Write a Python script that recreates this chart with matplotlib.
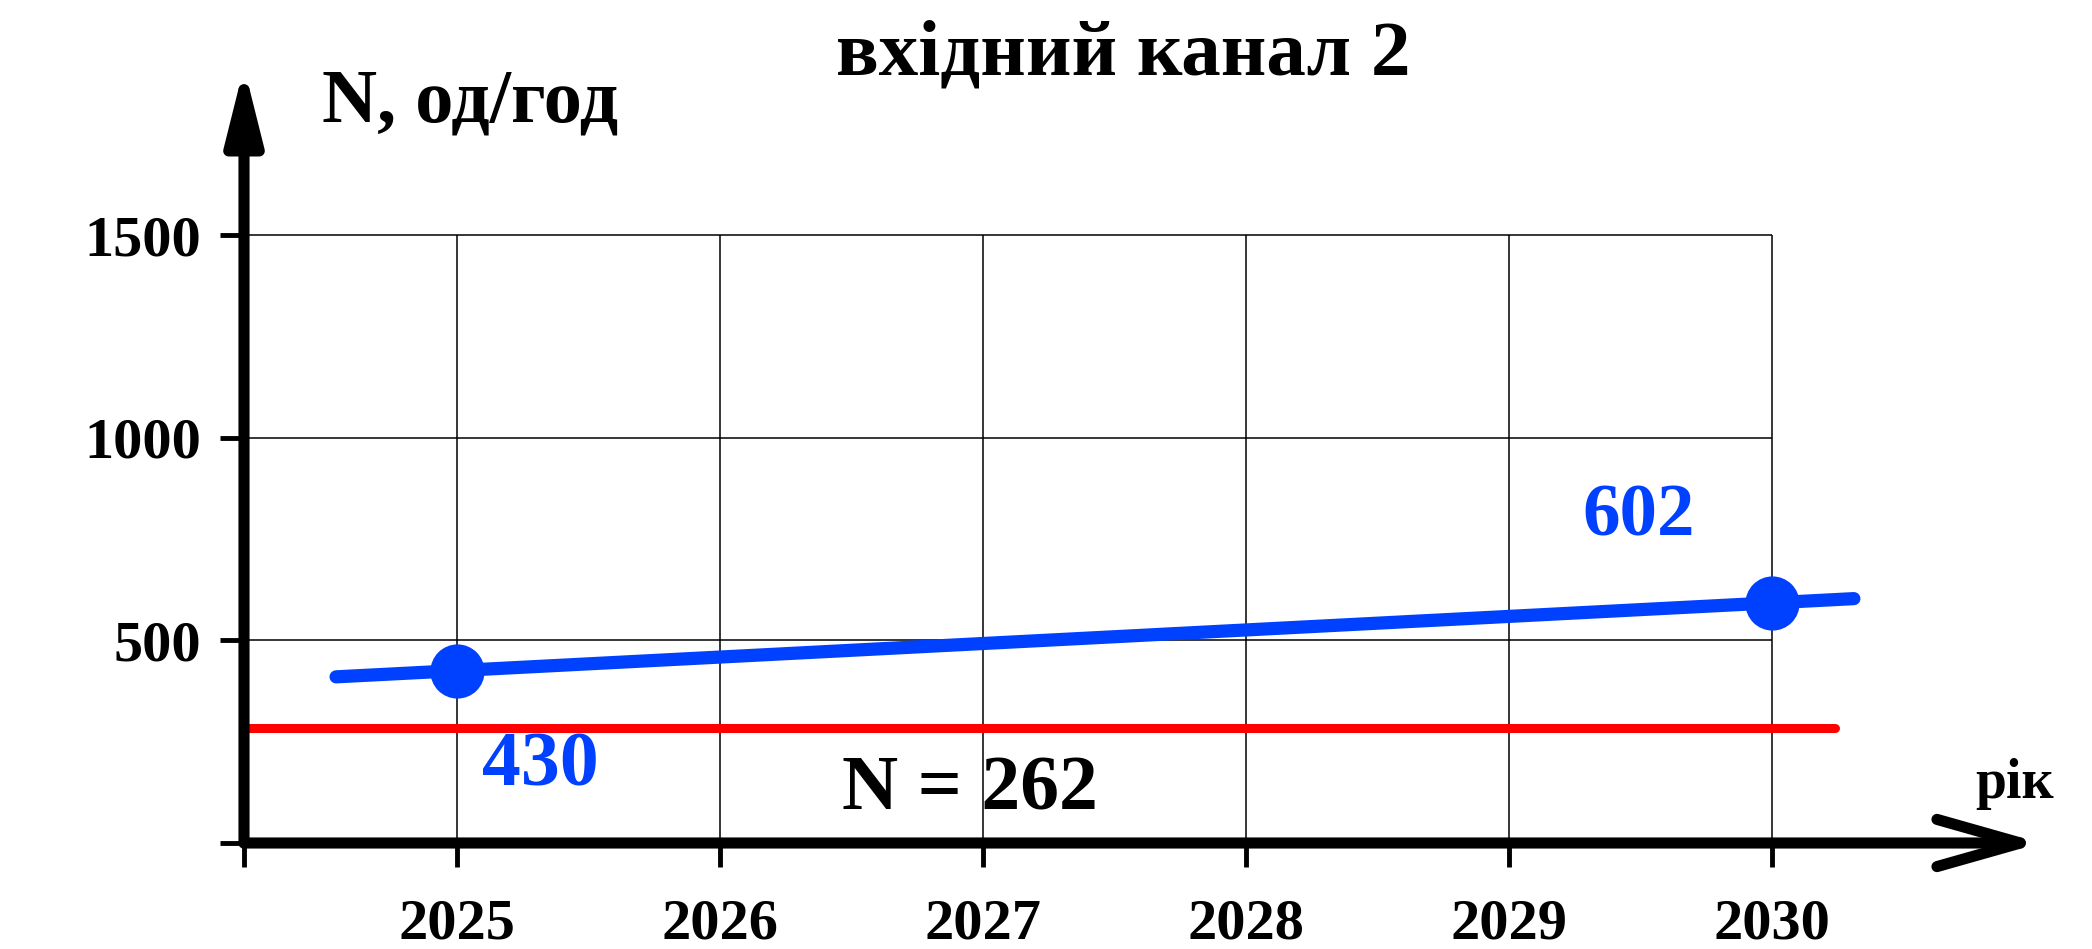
import matplotlib
matplotlib.use('Agg')
import matplotlib.pyplot as plt

# ── 資料 ─────────────────────────────────────────────────────────────────────
years       = [2025, 2026, 2027, 2028, 2029, 2030]
y_ticks     = [0, 500, 1000, 1500]
y_labels    = ['', '500', '1000', '1500']

point_years  = [2025, 2030]
point_values = [425, 593]
point_labels = ['430', '602']

trend_years  = [2024.54, 2030.31]
trend_values = [410, 603]

limit_years = [2024.19, 2030.24]
limit_value = 284
limit_label = 'N = 262'

title   = 'вхідний канал 2'
y_title = 'N, од/год'
x_title = 'рік'

# ── 樣式 ─────────────────────────────────────────────────────────────────────
plt.rcParams['font.family'] = ['Liberation Serif', 'DejaVu Serif']
plt.rcParams['font.weight'] = 'bold'
BLUE = '#0040FF'
RED  = '#FF0000'
X0, X1 = 2024.19, 2031.2
Y0, Y1 = 0, 1900

fig = plt.figure(figsize=(20.92, 9.49), dpi=100)
ax = fig.add_axes([244 / 2092, 1 - 843 / 949, (2088 - 244) / 2092, (843 - 73) / 949])
ax.set_xlim(X0, X1)
ax.set_ylim(Y0, Y1)
for s in ax.spines.values():
    s.set_visible(False)

# 格線
ax.vlines(years, 0, 1500, color='black', lw=1.1, zorder=1)
ax.hlines([500, 1000, 1500], X0, 2030, color='black', lw=1.1, zorder=1)

# 座標軸箭頭
ax.annotate('', xy=(X0, 1915), xytext=(X0, 0), annotation_clip=False,
            arrowprops=dict(arrowstyle='-|>,head_length=2.2,head_width=0.55',
                            mutation_scale=20, lw=8, color='black',
                            shrinkA=0, shrinkB=0, joinstyle='round'), zorder=5)
ax.annotate('', xy=(2031.02, 0), xytext=(X0, 0), annotation_clip=False,
            arrowprops=dict(arrowstyle='->,head_length=3.0,head_width=0.85',
                            mutation_scale=20, lw=8, color='black',
                            shrinkA=0, shrinkB=0, capstyle='round',
                            joinstyle='round'), zorder=5)

# 刻度
ax.set_yticks(y_ticks)
ax.set_yticklabels(y_labels, fontsize=42, fontweight='bold')
ax.set_xticks([X0] + years)
ax.set_xticklabels([''] + [str(y) for y in years], fontsize=42, fontweight='bold')
ax.tick_params(axis='y', direction='out', length=17, width=3.5, pad=14)
ax.tick_params(axis='x', direction='out', length=17, width=3.5, pad=23)

# 資料線
ax.plot(limit_years, [limit_value, limit_value], color=RED, lw=6.5,
        solid_capstyle='round', zorder=3)
ax.plot(trend_years, trend_values, color=BLUE, lw=9.5,
        solid_capstyle='round', zorder=4)
ax.plot(point_years, point_values, 'o', color=BLUE, ms=38, zorder=4)

# 標籤
ax.text(2025.315, 188, point_labels[0], color=BLUE, fontsize=56,
        fontweight='bold', ha='center', va='center')
ax.text(2029.49, 802, point_labels[1], color=BLUE, fontsize=54,
        fontweight='bold', ha='center', va='center')
ax.text(2026.95, 128, limit_label, color='black', fontsize=56,
        fontweight='bold', ha='center', va='center')
ax.text(2030.92, 146, x_title, color='black', fontsize=40,
        fontweight='bold', ha='center', va='center')
fig.text(470 / 2092, 1 - 103 / 949, y_title, fontsize=55,
         fontweight='bold', ha='center', va='center')
fig.text(1123 / 2092, 1 - 56 / 949, title, fontsize=57,
         fontweight='bold', ha='center', va='center')

fig.savefig('out.png', dpi=100)
